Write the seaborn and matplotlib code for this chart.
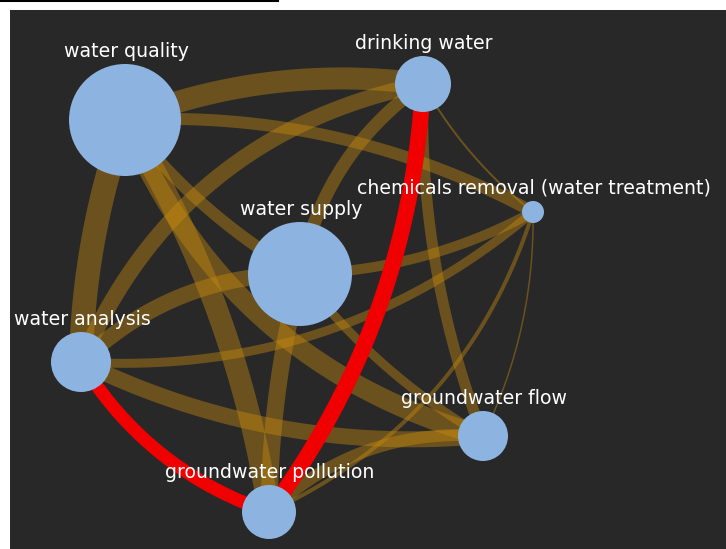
import numpy as np
import pandas as pd
import matplotlib
matplotlib.use("Agg")
import matplotlib.pyplot as plt
from matplotlib.lines import Line2D
import seaborn as sns

# ---- data -----------------------------------------------------------------
node_names = ["water quality", "drinking water", "chemicals removal (water treatment)",
              "water supply", "water analysis", "groundwater flow", "groundwater pollution"]
node_x = [125, 423, 533, 300, 81, 483, 269]          # layout coordinates
node_y = [120, 84, 212, 274, 362, 436, 512]
node_r = [56, 28, 11, 52, 30, 25, 27]                # node weight (radius)

edge_source = ["water quality", "water quality", "water quality", "groundwater pollution",
               "water quality", "water quality", "water analysis", "water supply",
               "drinking water", "drinking water", "water supply", "water analysis",
               "chemicals removal (water treatment)", "chemicals removal (water treatment)",
               "water analysis", "water supply", "water supply", "water analysis",
               "groundwater pollution"]
edge_target = ["drinking water", "chemicals removal (water treatment)", "water analysis",
               "water quality", "groundwater flow", "water supply", "drinking water",
               "drinking water", "groundwater flow", "chemicals removal (water treatment)",
               "chemicals removal (water treatment)", "chemicals removal (water treatment)",
               "groundwater pollution", "groundwater flow", "water supply",
               "groundwater pollution", "groundwater flow", "groundwater flow",
               "groundwater flow"]
edge_weight = [22, 12, 24, 22, 20, 12, 16, 13, 11, 2, 10, 9, 4, 1.5, 16, 17, 9, 16, 12]
edge_bend = [-0.065, -0.07, 0.04, 0.05, 0.12, 0.05, -0.13, -0.1, 0.05, 0.05,
             0.06, 0.1, -0.11, -0.06, -0.1, 0.03, 0.05, 0.07, -0.11]

path_nodes = ["water analysis", "groundwater pollution", "drinking water"]
path_weight = [13, 16]
path_bend = [0.09, 0.075]

# ---- figure ---------------------------------------------------------------
W, H, DPI = 726, 549, 100
fig = plt.figure(figsize=(W / DPI, H / DPI), dpi=DPI, facecolor="white")
ax = fig.add_axes([10 / W, 0, (W - 10) / W, (H - 10) / H])
ax.set_facecolor("#282828")
ax.add_patch(plt.Rectangle((10, 10), W - 10, H - 10, color="#282828", zorder=0))

nodes = pd.DataFrame({"name": node_names, "x": node_x, "y": node_y, "r": node_r})
pos = {n: (x, y) for n, x, y in zip(node_names, node_x, node_y)}
PX2PT = 72 / DPI


def curve(a, b, bend):
    a = np.asarray(a, float)
    b = np.asarray(b, float)
    d = b - a
    L = np.hypot(*d)
    n = np.array([-d[1], d[0]]) / L
    c = (a + b) / 2 + 2 * bend * L * n
    t = np.linspace(0, 1, 120)[:, None]
    p = (1 - t) ** 2 * a + 2 * t * (1 - t) * c + t ** 2 * b
    return p[:, 0], p[:, 1]


for s, t, w, bd in zip(edge_source, edge_target, edge_weight, edge_bend):
    xs, ys = curve(pos[s], pos[t], bd)
    ax.plot(xs, ys, color="#c88c0f", alpha=0.42, lw=w * PX2PT,
            solid_capstyle="butt", zorder=2)

for i in range(len(path_nodes) - 1):
    xs, ys = curve(pos[path_nodes[i]], pos[path_nodes[i + 1]], path_bend[i])
    ax.plot(xs, ys, color="#f00000", lw=path_weight[i] * PX2PT,
            solid_capstyle="butt", zorder=3)

sizes = {r: (2 * r * PX2PT) ** 2 for r in node_r}
sns.scatterplot(data=nodes, x="x", y="y", size="r", sizes=sizes, color="#8db3e0",
                linewidth=0, legend=False, ax=ax, zorder=4)
ax.set_xlim(10, W)
ax.set_ylim(H, 10)
ax.set_axis_off()

for n, x, y, r in zip(node_names, node_x, node_y, node_r):
    ax.text(x + 1, y - r - 7, n, color="white", ha="center", va="baseline",
            fontsize=13.6, family="DejaVu Sans", zorder=5)

fig.add_artist(Line2D([0, 278 / W], [1 - 1 / H, 1 - 1 / H], color="black", lw=1.5))

fig.savefig("out.png", dpi=DPI, facecolor="white")
